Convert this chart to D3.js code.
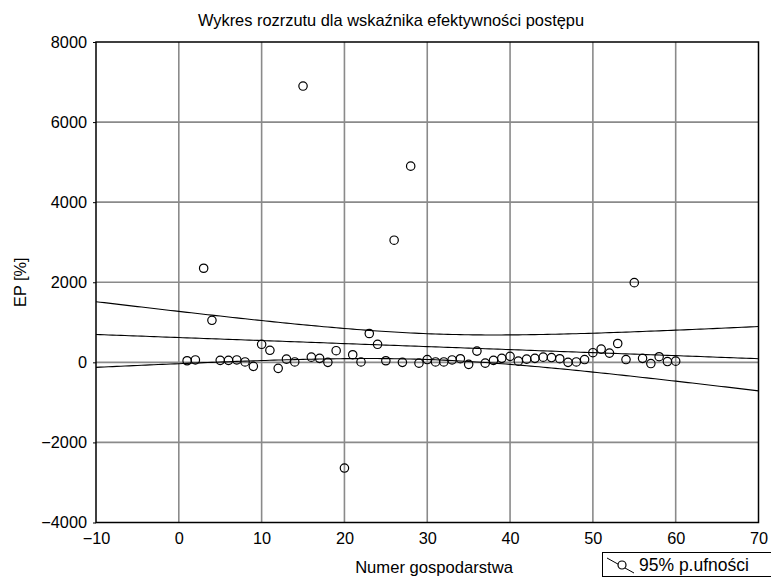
<!DOCTYPE html>
<html><head><meta charset="utf-8">
<script src="https://cdn.jsdelivr.net/npm/d3@7"></script>
<style>body{margin:0;background:#fff}svg{display:block}text{font-family:Arial,"Liberation Sans",sans-serif;fill:#000}</style>
</head><body>
<script>
const farmNumbers = d3.range(1, 61);
const epValues = [40,60,2350,1050,50,50,60,10,-100,450,
  300,-150,80,10,6900,130,100,0,290,-2640,
  190,10,720,450,40,3050,0,4900,-20,70,
  10,10,60,90,-50,280,-20,50,100,150,
  30,80,100,130,120,90,0,10,70,240,
  330,230,470,70,1990,100,-30,140,20,30];
const xTicks = [-10,0,10,20,30,40,50,60,70];
const yTicks = [-4000,-2000,0,2000,4000,6000,8000];
const title = "Wykres rozrzutu dla wskaźnika efektywności postępu";
const xLabel = "Numer gospodarstwa";
const yLabel = "EP [%]";
const legendLabel = "95% p.ufności";

const W = 771, H = 578;
const m = {left: 96, right: 771-758.5, top: 42, bottom: 578-522.5};
const svg = d3.select("body").append("svg").attr("width", W).attr("height", H);
const x = d3.scaleLinear().domain([-10, 70]).range([m.left, W - m.right]);
const y = d3.scaleLinear().domain([-4000, 8000]).range([H - m.bottom, m.top]);
const FF = "Arial, 'Liberation Sans', sans-serif";

// grid
const g = svg.append("g");
g.selectAll(".gx").data(xTicks.slice(1, -1)).join("line")
  .attr("x1", d => x(d)).attr("x2", d => x(d)).attr("y1", y(8000)).attr("y2", y(-4000))
  .attr("stroke", "#8a8a8a").attr("stroke-width", 1.6);
g.selectAll(".gy").data(yTicks.slice(1, -1)).join("line")
  .attr("y1", d => y(d)).attr("y2", d => y(d)).attr("x1", x(-10)).attr("x2", x(70))
  .attr("stroke", "#8a8a8a").attr("stroke-width", 1.6);

// regression & confidence bands computed from data
const n = farmNumbers.length;
const mx = d3.mean(farmNumbers), my = d3.mean(epValues);
let sxx = 0, sxy = 0;
farmNumbers.forEach((xi, i) => { sxx += (xi - mx) ** 2; sxy += (xi - mx) * (epValues[i] - my); });
const b = sxy / sxx, a = my - b * mx;
let sse = 0;
farmNumbers.forEach((xi, i) => { sse += (epValues[i] - (a + b * xi)) ** 2; });
const s = Math.sqrt(sse / (n - 2));
const t = 2.0017;
const xs = d3.range(-10, 70.01, 0.5);
const fit = xv => a + b * xv;
const hw = xv => t * s * Math.sqrt(1 / n + (xv - mx) ** 2 / sxx);
svg.append("clipPath").attr("id", "c").append("rect")
  .attr("x", x(-10)).attr("y", y(8000)).attr("width", x(70) - x(-10)).attr("height", y(-4000) - y(8000));
const lineGen = f => d3.line().x(d => x(d)).y(d => y(f(d)))(xs);
const lg = svg.append("g").attr("clip-path", "url(#c)");
[fit, xv => fit(xv) + hw(xv), xv => fit(xv) - hw(xv)].forEach(f => {
  lg.append("path").attr("d", lineGen(f)).attr("fill", "none").attr("stroke", "#000").attr("stroke-width", 1.1);
});

// points
svg.append("g").selectAll("circle").data(farmNumbers).join("circle")
  .attr("cx", d => x(d)).attr("cy", (d, i) => y(epValues[i])).attr("r", 4.2)
  .attr("fill", "none").attr("stroke", "#000").attr("stroke-width", 1.2);

// frame
svg.append("rect").attr("x", x(-10)).attr("y", y(8000)).attr("width", x(70) - x(-10)).attr("height", y(-4000) - y(8000))
  .attr("fill", "none").attr("stroke", "#000").attr("stroke-width", 1.5);

// axes
const xAxis = svg.append("g").attr("transform", `translate(0,${y(-4000)})`)
  .call(d3.axisBottom(x).tickValues(xTicks).tickSize(0).tickPadding(10).tickFormat(d3.format("d")));
xAxis.select(".domain").remove();
xAxis.selectAll("text").attr("font-size", 16.3).style("font-family", FF);
const yAxis = svg.append("g").attr("transform", `translate(${x(-10)},0)`)
  .call(d3.axisLeft(y).tickValues(yTicks).tickSize(3).tickPadding(6).tickFormat(d3.format("d")));
yAxis.select(".domain").remove();
yAxis.selectAll("line").attr("stroke", "#000");
yAxis.selectAll("text").attr("font-size", 16.3).style("font-family", FF);

// titles
svg.append("text").attr("x", 391).attr("y", 26).attr("text-anchor", "middle").attr("font-size", 16.4).text(title);
svg.append("text").attr("x", 434).attr("y", 573).attr("text-anchor", "middle").attr("font-size", 16.6).text(xLabel);
svg.append("text").attr("transform", `translate(25.5,${y(2000)}) rotate(-90)`).attr("text-anchor", "middle").attr("font-size", 16.3).text(yLabel);

// legend
const leg = svg.append("g");
leg.append("rect").attr("x", 602.5).attr("y", 552.5).attr("width", 175).attr("height", 24)
  .attr("fill", "#fff").attr("stroke", "#000").attr("stroke-width", 1);
leg.append("line").attr("x1", 607).attr("y1", 558).attr("x2", 634).attr("y2", 573).attr("stroke", "#000").attr("stroke-width", 1);
leg.append("circle").attr("cx", 622).attr("cy", 565).attr("r", 4).attr("fill", "#fff").attr("stroke", "#000").attr("stroke-width", 1.2);
leg.append("text").attr("x", 639).attr("y", 571).attr("font-size", 17.5).text(legendLabel);
</script>
</body></html>
